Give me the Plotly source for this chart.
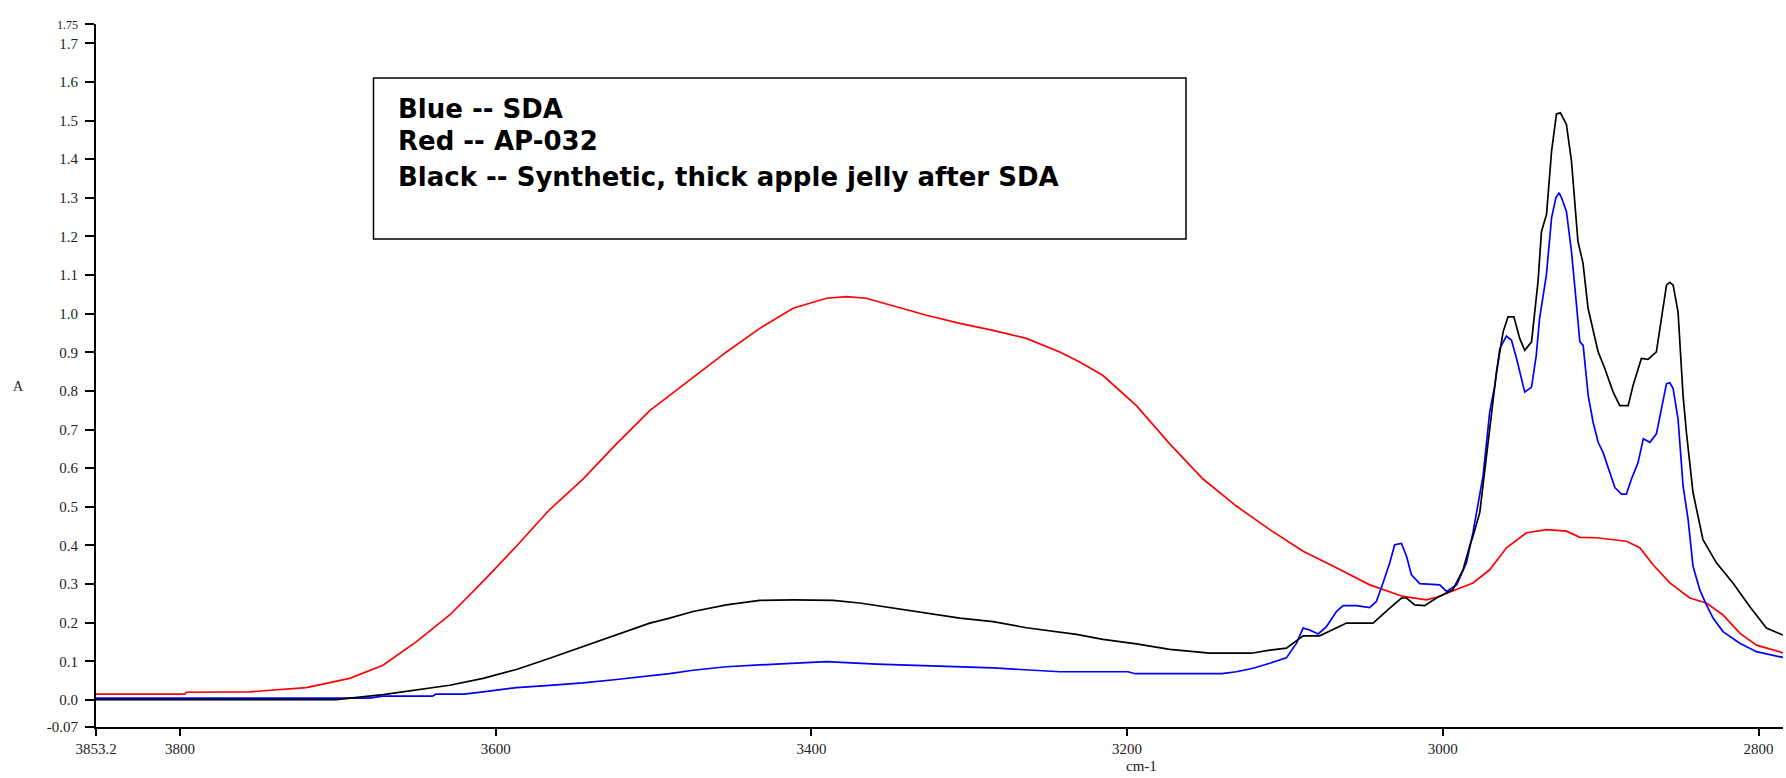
import plotly.graph_objects as go

# ---- data (wavenumber cm-1, absorbance) ----
red_wn = [3853.2, 3797, 3796, 3756, 3720, 3692.5, 3671.4, 3650.2, 3629.1, 3608, 3586.9, 3565.8,
          3544.7, 3523.5, 3502.4, 3489.8, 3475, 3453.8, 3432.7, 3411.6, 3390.5, 3377.8, 3365.2,
          3348.3, 3327.1, 3306, 3284.9, 3263.8, 3242.7, 3230, 3215.3, 3194.1, 3173, 3151.9,
          3130.8, 3109.6, 3088.5, 3067.4, 3046.3, 3025.2, 3010.4, 3004, 2989.4, 2980.9, 2970.3,
          2959.7, 2947, 2934.3, 2921.7, 2913.2, 2902.7, 2883.7, 2875.2, 2866.8, 2856.2, 2843.6,
          2833, 2822.5, 2811.9, 2801.3, 2784.5]
red_a = [0.015, 0.015, 0.020, 0.021, 0.032, 0.056, 0.090, 0.151, 0.220, 0.307, 0.398, 0.493,
         0.572, 0.663, 0.749, 0.788, 0.836, 0.901, 0.962, 1.014, 1.040, 1.044, 1.040,
         1.021, 0.996, 0.975, 0.957, 0.936, 0.901, 0.875, 0.840, 0.762, 0.663, 0.572,
         0.502, 0.441, 0.385, 0.342, 0.298, 0.268, 0.259, 0.266, 0.290, 0.303, 0.337,
         0.394, 0.433, 0.441, 0.437, 0.421, 0.420, 0.411, 0.394, 0.350, 0.303, 0.264,
         0.251, 0.220, 0.173, 0.142, 0.122]

blue_wn = [3853.2, 3680, 3671.4, 3640, 3638, 3620, 3608, 3586.9, 3565.8, 3544.7, 3523.5, 3502.4,
           3489.8, 3475, 3453.8, 3422.2, 3390.5, 3358.8, 3327.1, 3284.9, 3242.7, 3199.4, 3195,
           3140, 3130.8, 3120.2, 3109.6, 3099.1, 3092.7, 3088.5, 3084.3, 3079, 3073.7, 3067.4,
           3063.2, 3054.7, 3046.3, 3042.1, 3037.9, 3033.6, 3030.5, 3026.2, 3023, 3019.9, 3014.6,
           3001.9, 2997.6, 2991.3, 2985, 2980.9, 2974.5, 2970.3, 2967.1, 2963.9, 2959.7, 2956.5,
           2953.3, 2950.2, 2948.1, 2943.8, 2940.8, 2938.7, 2934.4, 2931.1, 2928.4, 2926.3,
           2924.8, 2921.7, 2918.5, 2915.3, 2913.2, 2911.1, 2907.9, 2904.8, 2901.6, 2898.5,
           2894.2, 2891, 2886.8, 2883.7, 2880.5, 2876.3, 2873, 2868.8, 2864.7, 2861.5, 2858.3,
           2856.2, 2854.1, 2851, 2847.8, 2844.6, 2841.5, 2837.2, 2833, 2828.8, 2822.5, 2811.9,
           2801.3, 2784.5]
blue_a = [0.005, 0.005, 0.010, 0.010, 0.015, 0.015, 0.021, 0.032, 0.038, 0.044, 0.053, 0.062,
          0.068, 0.077, 0.086, 0.093, 0.099, 0.093, 0.088, 0.083, 0.073, 0.073, 0.068,
          0.068, 0.073, 0.082, 0.095, 0.109, 0.147, 0.186, 0.181, 0.171, 0.190, 0.229,
          0.244, 0.244, 0.239, 0.255, 0.303, 0.355, 0.402, 0.405, 0.372, 0.324, 0.301,
          0.298, 0.281, 0.298, 0.355, 0.433, 0.580, 0.745, 0.814, 0.910, 0.942, 0.931,
          0.884, 0.827, 0.797, 0.810, 0.892, 0.988, 1.100, 1.248, 1.300, 1.313,
          1.300, 1.265, 1.161, 1.022, 0.927, 0.918, 0.788, 0.719, 0.667, 0.641,
          0.589, 0.550, 0.533, 0.533, 0.572, 0.615, 0.676, 0.667, 0.689, 0.754, 0.819,
          0.821, 0.806, 0.728, 0.554, 0.467, 0.346, 0.285, 0.246, 0.212, 0.177, 0.147,
          0.125, 0.110]

black_wn = [3853.2, 3701, 3671.4, 3650.2, 3629.1, 3608, 3586.9, 3565.8, 3544.7, 3523.5, 3502.4,
            3489.8, 3475, 3453.8, 3432.7, 3411.6, 3386.3, 3369.4, 3348.3, 3327.1, 3306, 3284.9,
            3263.8, 3232.1, 3215.3, 3194.1, 3173, 3147.7, 3121.3, 3109.6, 3099.1, 3088.5, 3078,
            3061, 3044.2, 3033.6, 3026.2, 3023, 3017.8, 3011.5, 3004, 2993.7, 2987.2, 2983,
            2980.9, 2976.6, 2970.3, 2966, 2961.8, 2958.7, 2955, 2951.3, 2948.1, 2943.8, 2939.7,
            2937.5, 2934.3, 2931.1, 2928, 2925.5, 2921.7, 2918.5, 2914.4, 2911.2, 2908, 2904.8,
            2901.6, 2897.4, 2892.1, 2887.9, 2882.6, 2879.5, 2874.2, 2870, 2864.7, 2861.5,
            2858.3, 2856.2, 2854.1, 2851, 2847.8, 2845.7, 2841.5, 2835.2, 2826.7, 2816.2,
            2805.6, 2795, 2784.5]
black_a = [0.001, 0.001, 0.014, 0.027, 0.038, 0.056, 0.079, 0.108, 0.138, 0.168, 0.199,
           0.212, 0.229, 0.246, 0.258, 0.259, 0.258, 0.251, 0.238, 0.225, 0.212, 0.203,
           0.187, 0.170, 0.157, 0.145, 0.131, 0.121, 0.121, 0.129, 0.134, 0.166, 0.166,
           0.199, 0.199, 0.238, 0.264, 0.264, 0.246, 0.244, 0.264, 0.285, 0.337, 0.398,
           0.424, 0.485, 0.693, 0.849, 0.953, 0.992, 0.992, 0.936, 0.905, 0.927, 1.083,
           1.213, 1.257, 1.421, 1.517, 1.520, 1.490, 1.395, 1.187, 1.131, 1.014, 0.953,
           0.901, 0.858, 0.797, 0.762, 0.762, 0.814, 0.884, 0.882, 0.901, 0.988,
           1.074, 1.081, 1.074, 1.005, 0.788, 0.693, 0.537, 0.415, 0.355, 0.303,
           0.242, 0.186, 0.168]

x_ticks = [3853.2, 3800, 3600, 3400, 3200, 3000, 2800]
x_tick_text = ["3853.2", "3800", "3600", "3400", "3200", "3000", "2800"]
y_ticks = [-0.07, 0.0, 0.1, 0.2, 0.3, 0.4, 0.5, 0.6, 0.7, 0.8, 0.9, 1.0, 1.1, 1.2, 1.3,
           1.4, 1.5, 1.6, 1.7, 1.75]
y_tick_text = ["-0.07", "0.0", "0.1", "0.2", "0.3", "0.4", "0.5", "0.6", "0.7", "0.8", "0.9",
               "1.0", "1.1", "1.2", "1.3", "1.4", "1.5", "1.6", "1.7",
               "<span style='font-size:12px'>1.75</span>"]
legend_lines = ["Blue -- SDA", "Red -- AP-032", "Black -- Synthetic, thick apple jelly after SDA"]

W, H = 1786, 778
L, R, T, B = 96, 3, 24, 51
pw, ph = W - L - R, H - T - B


def px(xp):
    return (xp - L) / pw


def py(yp):
    return (H - B - yp) / ph


fig = go.Figure()
fig.add_trace(go.Scatter(x=red_wn, y=red_a, mode="lines", line=dict(color="#ff0000", width=1.7),
                         name="Red", hoverinfo="x+y"))
fig.add_trace(go.Scatter(x=blue_wn, y=blue_a, mode="lines", line=dict(color="#0000ff", width=1.7),
                         name="Blue", hoverinfo="x+y"))
fig.add_trace(go.Scatter(x=black_wn, y=black_a, mode="lines", line=dict(color="#000000", width=1.7),
                         name="Black", hoverinfo="x+y"))

tickfont = dict(family="Liberation Serif, Times New Roman, serif", size=15, color="#222")

fig.update_layout(
    width=W, height=H,
    margin=dict(l=L, r=R, t=T, b=B, pad=0),
    paper_bgcolor="white", plot_bgcolor="white",
    showlegend=False,
    xaxis=dict(range=[3853.2, 2784.5], tickmode="array", tickvals=x_ticks, ticktext=x_tick_text,
               showgrid=False, zeroline=False, showline=True, linecolor="black", linewidth=1.5,
               ticks="outside", ticklen=7, tickwidth=2, tickcolor="black", tickfont=tickfont),
    yaxis=dict(range=[-0.07, 1.75], tickmode="array", tickvals=y_ticks, ticktext=y_tick_text,
               showgrid=False, zeroline=False, showline=True, linecolor="black", linewidth=2,
               ticks="outside", ticklen=9, tickwidth=2, tickcolor="black", tickfont=tickfont,
               ticklabelstandoff=4),
)

# legend box
fig.add_shape(type="rect", xref="paper", yref="paper",
              x0=px(373.5), x1=px(1186), y0=py(239), y1=py(78),
              line=dict(color="black", width=1.5), fillcolor="white", layer="above")
for txt, yc in zip(legend_lines, [108.5, 141.5, 177]):
    fig.add_annotation(text="<b>" + txt + "</b>", xref="paper", yref="paper",
                       x=px(396), y=py(yc), xanchor="left", yanchor="middle", showarrow=False,
                       font=dict(family="DejaVu Sans, Liberation Sans, Arial, sans-serif", size=26,
                                 color="black"))

fig.add_annotation(text="A", xref="paper", yref="paper", x=px(18), y=py(386),
                   xanchor="center", yanchor="middle", showarrow=False,
                   font=dict(family="Liberation Serif, Times New Roman, serif", size=14, color="#222"))
fig.add_annotation(text="cm-1", xref="paper", yref="paper", x=px(1141), y=py(766),
                   xanchor="center", yanchor="middle", showarrow=False,
                   font=dict(family="Liberation Serif, Times New Roman, serif", size=15, color="#222"))

fig.write_html("out.html", config={"displayModeBar": False},
               post_script="document.body.style.margin='0';document.body.style.overflow='hidden';")
